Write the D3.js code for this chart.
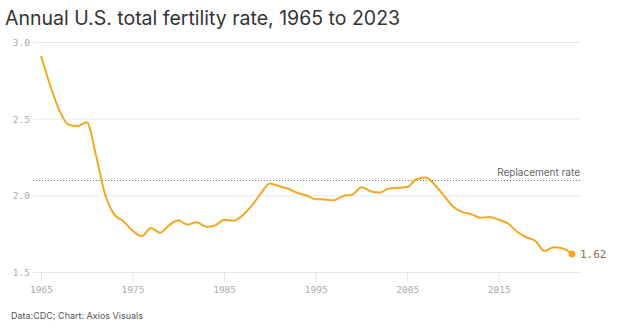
<!DOCTYPE html>
<html><head><meta charset="utf-8">
<script src="https://cdn.jsdelivr.net/npm/d3@7"></script>
<style>body{margin:0;background:#fff;} svg{display:block;}</style>
</head><body>
<script>
const years = d3.range(1965, 2024);
const rates = [2.913,2.721,2.558,2.464,2.456,2.480,2.266,2.010,1.879,1.835,1.774,1.738,1.790,1.760,1.808,1.840,1.812,1.828,1.799,1.807,1.844,1.838,1.872,1.934,2.014,2.081,2.063,2.046,2.020,2.002,1.978,1.976,1.971,1.999,2.008,2.056,2.030,2.021,2.048,2.052,2.057,2.108,2.120,2.072,2.002,1.931,1.895,1.881,1.857,1.862,1.844,1.820,1.766,1.730,1.706,1.641,1.664,1.657,1.621];
const yTicks = [1.5, 2.0, 2.5, 3.0];
const xTicks = [1965, 1975, 1985, 1995, 2005, 2015];
const replacement = 2.1;
const title = "Annual U.S. total fertility rate, 1965 to 2023";
const source = "Data:CDC; Chart: Axios Visuals";

const W = 620, H = 327;
const svg = d3.select("body").append("svg").attr("width", W).attr("height", H);
const x = d3.scaleLinear().domain([1965, 2023]).range([41, 572]);
const y = d3.scaleLinear().domain([1.5, 3.0]).range([272.5, 42.5]);
const gridL = 33, gridR = 580;

svg.append("text").attr("x", 5).attr("y", 25).text(title)
  .attr("font-family", "Inter, Roboto, sans-serif").attr("font-size", 19.5).attr("fill", "#333");

// y grid
const yAxis = d3.axisLeft(y).tickValues(yTicks).tickFormat(d3.format(".1f")).tickSize(0).tickPadding(3);
const gy = svg.append("g").attr("transform", `translate(${gridL},0)`).call(yAxis);
gy.select(".domain").remove();
gy.selectAll("text").attr("font-family", "'DejaVu Sans Mono', monospace").attr("font-size", 9.5).attr("fill", "#aaa");
svg.append("g").selectAll("line").data(yTicks).join("line")
  .attr("x1", gridL).attr("x2", gridR).attr("y1", d => y(d)).attr("y2", d => y(d))
  .attr("stroke", "#e8e8e8").attr("stroke-width", 1);

// x axis
const xAxis = d3.axisBottom(x).tickValues(xTicks).tickFormat(d3.format("d")).tickSize(9).tickPadding(5);
const gx = svg.append("g").attr("transform", `translate(0,${y(1.5)})`).call(xAxis);
gx.select(".domain").remove();
gx.selectAll(".tick line").attr("stroke", "#e4e4e4");
gx.selectAll("text").attr("font-family", "'DejaVu Sans Mono', monospace").attr("font-size", 9.5).attr("fill", "#aaa");

// replacement line
svg.append("line").attr("x1", gridL).attr("x2", gridR)
  .attr("y1", y(replacement)).attr("y2", y(replacement))
  .attr("stroke", "#777").attr("stroke-width", 1).attr("stroke-dasharray", "1,2");
svg.append("text").attr("x", gridR).attr("y", y(replacement) - 5).attr("text-anchor", "end")
  .text("Replacement rate").attr("font-family", "Inter, Roboto, sans-serif").attr("font-size", 10).attr("fill", "#666");

// line
const data = years.map((yr, i) => ({yr, v: rates[i]}));
svg.append("path").datum(data)
  .attr("d", d3.line().x(d => x(d.yr)).y(d => y(d.v)).curve(d3.curveMonotoneX))
  .attr("fill", "none").attr("stroke", "#f5a623").attr("stroke-width", 2);
const last = data[data.length - 1];
svg.append("circle").attr("cx", x(last.yr)).attr("cy", y(last.v)).attr("r", 3.5).attr("fill", "#f5a623");
svg.append("text").attr("x", x(last.yr) + 8).attr("y", y(last.v) + 4)
  .text(last.v.toFixed(2)).attr("font-family", "'DejaVu Sans Mono', monospace").attr("font-size", 11).attr("fill", "#8a7050");

svg.append("text").attr("x", 11).attr("y", 319).text(source)
  .attr("font-family", "Inter, Roboto, sans-serif").attr("font-size", 9).attr("fill", "#555");
</script>
</body></html>
